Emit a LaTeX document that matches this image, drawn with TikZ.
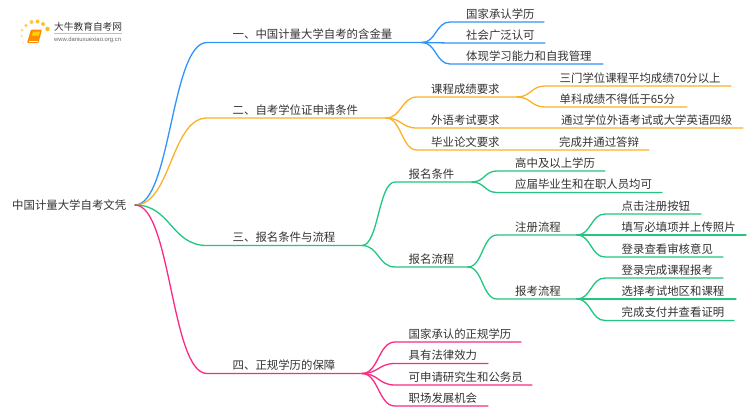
\documentclass[tikz,border=0pt]{standalone}
\usepackage{fontspec}
\setmainfont{Noto Sans CJK SC}
\newfontfamily\latinlogo{Liberation Sans}
\usetikzlibrary{calc}
\definecolor{cblue}{HTML}{2F95FA}
\definecolor{corange}{HTML}{FBB128}
\definecolor{cgreen}{HTML}{21C77F}
\definecolor{cpink}{HTML}{FB2A84}
\definecolor{ctext}{HTML}{333333}
\tikzset{
  x=1pt,y=-1pt,
  lbl/.style={font=\fontsize{11.4}{14}\selectfont,text=ctext,inner sep=0pt,anchor=base west},
  wire/.style={line width=1.3pt,line cap=round},
}
\newcommand{\curveto}[4]{% colour, start, knee, end
  \draw[wire,#1] (#2) .. controls ($(#2)!.5!(#3|-#2)$) and ($(#3)!.5!(#2|-#3)$) .. (#3) -- (#4);}
\begin{document}
\begin{tikzpicture}
\useasboundingbox (0,0) rectangle (750,410);
\fill[white] (0,0) rectangle (750,410);
% junctions
\coordinate (root) at (135,205);
\coordinate (b1) at (422,42.5);
\coordinate (b2) at (386,118);
\coordinate (b3) at (362,245.5);
\coordinate (b4) at (362,373.5);
\coordinate (k1) at (207,42.5);
\coordinate (k2) at (207,118);
\coordinate (k3) at (207,245.5);
\coordinate (k4) at (207,373.5);
\coordinate (c21) at (517,97);
\coordinate (c31) at (472,182);
\coordinate (c32) at (468,267);
\coordinate (c321) at (577,235);
\coordinate (c322) at (577,299);
% root
\node[lbl] (t0) at (12,209.5) {中国计量大学自考文凭};
% level one
\curveto{cblue}{root}{k1}{b1}
\curveto{corange}{root}{k2}{b2}
\curveto{cgreen}{root}{k3}{b3}
\curveto{cpink}{root}{k4}{b4}
\node[lbl] (t1) at (232.5,38.5) {一、中国计量大学自考的含金量};
\node[lbl] (t2) at (232.5,114) {二、自考学位证申请条件};
\node[lbl] (t3) at (232.5,241.5) {三、报名条件与流程};
\node[lbl] (t4) at (232.5,369.5) {四、正规学历的保障};
% blue
\foreach \y/\e/\s in {22/544/国家承认学历,43/545/社会广泛认可,64/603/体现学习能力和自我管理}{
  \coordinate (k) at (450,\y); \coordinate (e) at (\e,\y);
  \curveto{cblue}{b1}{k}{e}
  \node[lbl] at (466,\y-4) {\s};
}
% orange
\coordinate (k) at (417,97);
\curveto{corange}{b2}{k}{c21}
\node[lbl] at (431,93) {课程成绩要求};
\coordinate (k) at (417,128); \coordinate (e) at (743,128);
\curveto{corange}{b2}{k}{e}
\node[lbl] at (431,124) {外语考试要求};
\node[lbl] at (561,124) {通过学位外语考试或大学英语四级};
\coordinate (k) at (417,150); \coordinate (e) at (649,150);
\curveto{corange}{b2}{k}{e}
\node[lbl] at (431,146) {毕业论文要求};
\node[lbl] at (559,146) {完成并通过答辩};
\foreach \y/\e/\s in {86/731/三门学位课程平均成绩70分以上,107/687/单科成绩不得低于65分}{
  \coordinate (k) at (545,\y); \coordinate (e) at (\e,\y);
  \curveto{corange}{c21}{k}{e}
  \node[lbl] at (559.5,\y-4) {\s};
}
% green
\coordinate (k) at (395,182);
\curveto{cgreen}{b3}{k}{c31}
\node[lbl] at (408.5,178) {报名条件};
\coordinate (k) at (395,267);
\curveto{cgreen}{b3}{k}{c32}
\node[lbl] at (408.5,263) {报名流程};
\foreach \y/\e/\s in {171/605/高中及以上学历,192.5/662/应届毕业生和在职人员均可}{
  \coordinate (k) at (497,\y); \coordinate (e) at (\e,\y);
  \curveto{cgreen}{c31}{k}{e}
  \node[lbl] at (515,\y-4) {\s};
}
\coordinate (k) at (497,235);
\curveto{cgreen}{c32}{k}{c321}
\node[lbl] at (515,231) {注册流程};
\coordinate (k) at (497,299);
\curveto{cgreen}{c32}{k}{c322}
\node[lbl] at (515,295) {报考流程};
\foreach \y/\e/\s in {214/701/点击注册按钮,235/746/填写必填项并上传照片,257/723/登录查看审核意见}{
  \coordinate (k) at (605,\y); \coordinate (e) at (\e,\y);
  \curveto{cgreen}{c321}{k}{e}
  \node[lbl] at (621.5,\y-4) {\s};
}
\foreach \y/\e/\s in {278/723/登录完成课程报考,299/736/选择考试地区和课程,320.5/734/完成支付并查看证明}{
  \coordinate (k) at (605,\y); \coordinate (e) at (\e,\y);
  \curveto{cgreen}{c322}{k}{e}
  \node[lbl] at (621.5,\y-4) {\s};
}
% pink
\foreach \y/\e/\s in {342/521/国家承认的正规学历,363.5/488/具有法律效力,385/532/可申请研究生和公务员,406/488/职场发展机会}{
  \coordinate (k) at (395,\y); \coordinate (e) at (\e,\y);
  \curveto{cpink}{b4}{k}{e}
  \node[lbl] at (408.5,\y-4) {\s};
}
% logo
\foreach \px/\py/\r/\o in {23/43/1/.3,21.5/36/1.3/.4,22/30/1.5/.5,26/25.5/1.8/.6,31.5/22/2/.7,37.5/21.5/2/.8,43/24/2/.8,47.5/29/2.2/.9}{
  \fill[orange!60!yellow,opacity=\o] (\px,\py) circle (\r);
}
\fill[orange!90!yellow,rounded corners=1pt] (31,29.5) -- (42,29.5) -- (38.5,43) -- (27,43) -- cycle;
\draw[white,line width=.5pt] (28.5,41) -- (38,41);
\fill[yellow!70!orange] (33,31.5) -- (40,31.5) -- (39,35.5) -- (32,35.5) -- cycle;
\node[inner sep=0pt,anchor=base west,text=ctext,font=\fontsize{9.7}{11}\selectfont] (lg1) at (54,30.5) {大牛教育自考网};
\draw[black!25,line width=.4pt] (54,33.5) -- (122,33.5);
\node[inner sep=0pt,anchor=base west,text=black!60,font=\latinlogo\fontsize{5.9}{7}\selectfont] (lg2) at (54,41) {www.daniuxuexiao.org.cn};
\end{tikzpicture}
\end{document}
